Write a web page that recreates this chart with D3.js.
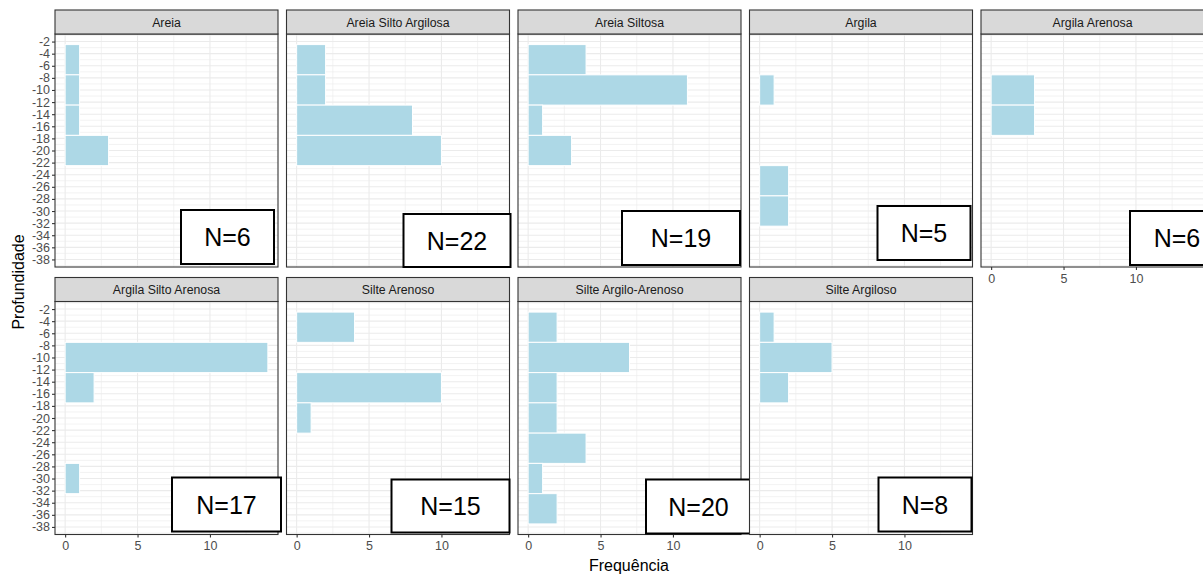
<!DOCTYPE html>
<html>
<head>
<meta charset="utf-8">
<script src="https://cdn.jsdelivr.net/npm/d3@7"></script>
<style>
  html, body { margin: 0; padding: 0; background: #ffffff; overflow: hidden; }
  svg { display: block; font-family: "Liberation Sans", Arial, sans-serif; }
</style>
</head>
<body>
<svg id="chart" width="1203" height="575"></svg>
<script>
// ---------------- data ----------------
const facets = [
  "Areia", "Areia Silto Argilosa", "Areia Siltosa", "Argila", "Argila Arenosa",
  "Argila Silto Arenosa", "Silte Arenoso", "Silte Argilo-Arenoso", "Silte Argiloso"
];
// bin centres (depth, m) — binwidth 5
const binCenters = [-5, -10, -15, -20, -25, -30, -35];
const binWidth = 5;
// counts per facet, one value per bin centre
const countsAreia               = [1, 1, 1, 3, 0, 0, 0];
const countsAreiaSiltoArgilosa  = [2, 2, 8, 10, 0, 0, 0];
const countsAreiaSiltosa        = [4, 11, 1, 3, 0, 0, 0];
const countsArgila              = [0, 1, 0, 0, 2, 2, 0];
const countsArgilaArenosa       = [0, 3, 3, 0, 0, 0, 0];
const countsArgilaSiltoArenosa  = [0, 14, 2, 0, 0, 1, 0];
const countsSilteArenoso        = [4, 0, 10, 1, 0, 0, 0];
const countsSilteArgiloArenoso  = [2, 7, 2, 2, 4, 1, 2];
const countsSilteArgiloso       = [1, 5, 2, 0, 0, 0, 0];
const facetCounts = [
  countsAreia, countsAreiaSiltoArgilosa, countsAreiaSiltosa, countsArgila, countsArgilaArenosa,
  countsArgilaSiltoArenosa, countsSilteArenoso, countsSilteArgiloArenoso, countsSilteArgiloso
];
const nLabels = ["N=6", "N=22", "N=19", "N=5", "N=6", "N=17", "N=15", "N=20", "N=8"];
const yTicks = d3.range(-2, -39, -2);
const yMinor = d3.range(-1, -40, -2);
const xTicks = [0, 5, 10];
const xMinor = [2.5, 7.5, 12.5];
const xTitle = "Frequência";
const yTitle = "Profundidade";

// ---------------- layout (positions/styles) ----------------
const panelW = 223, panelH = 233, stripH = 24;
const colLeft = [55, 286.5, 518, 749.5, 981];
const rowTop = [10, 277.5];  // top of strip
const ncol = 5;
// annotation boxes: width, height, offset of right edge from panel right, offset of bottom from panel bottom
const boxLayout = [
  {w: 93,  h: 54, dr: -4,  db: -3},
  {w: 107, h: 53, dr: 1,   db: 0},
  {w: 118, h: 54, dr: -1,  db: -2},
  {w: 93,  h: 54, dr: -2,  db: -7},
  {w: 94,  h: 54, dr: 20,  db: -2},
  {w: 109, h: 54, dr: 3,   db: -3},
  {w: 118, h: 53, dr: 0,   db: -2},
  {w: 105, h: 54, dr: 10,  db: -1},
  {w: 93,  h: 54, dr: -1,  db: -3}
];

const svg = d3.select("#chart");

const countMax = d3.max(facetCounts.flat());
const xPad = countMax * 0.05;
const x = d3.scaleLinear().domain([-xPad, countMax + xPad]).range([0, panelW]);
const yTop = d3.max(binCenters) + binWidth / 2, yBot = d3.min(binCenters) - binWidth / 2;
const yPad = (yTop - yBot) * 0.05;
const y = d3.scaleLinear().domain([yTop + yPad, yBot - yPad]).range([0, panelH]);

facets.forEach((name, i) => {
  const col = i % ncol, row = Math.floor(i / ncol);
  const px = colLeft[col], sy = rowTop[row], py = sy + stripH;
  const g = svg.append("g").attr("transform", `translate(${px},${py})`);

  // panel background
  g.append("rect").attr("width", panelW).attr("height", panelH).attr("fill", "#ffffff");
  // minor grid
  g.selectAll(".ymin").data(yMinor).join("line")
    .attr("x1", 0).attr("x2", panelW)
    .attr("y1", d => y(d)).attr("y2", d => y(d))
    .attr("stroke", "#ebebeb").attr("stroke-width", 0.6);
  g.selectAll(".xmin").data(xMinor).join("line")
    .attr("y1", 0).attr("y2", panelH)
    .attr("x1", d => x(d)).attr("x2", d => x(d))
    .attr("stroke", "#ebebeb").attr("stroke-width", 0.6);
  // major grid
  g.selectAll(".ymaj").data(yTicks).join("line")
    .attr("x1", 0).attr("x2", panelW)
    .attr("y1", d => y(d)).attr("y2", d => y(d))
    .attr("stroke", "#ebebeb").attr("stroke-width", 1.1);
  g.selectAll(".xmaj").data(xTicks).join("line")
    .attr("y1", 0).attr("y2", panelH)
    .attr("x1", d => x(d)).attr("x2", d => x(d))
    .attr("stroke", "#ebebeb").attr("stroke-width", 1.1);

  // bars
  const bins = binCenters.map((c, k) => ({c, n: facetCounts[i][k]})).filter(d => d.n > 0);
  g.selectAll(".bar").data(bins).join("rect")
    .attr("x", x(0))
    .attr("y", d => y(d.c + binWidth / 2))
    .attr("width", d => x(d.n) - x(0))
    .attr("height", d => y(d.c - binWidth / 2) - y(d.c + binWidth / 2))
    .attr("fill", "#add8e6")
    .attr("stroke", "#ffffff").attr("stroke-width", 1);

  // panel border
  g.append("rect").attr("width", panelW).attr("height", panelH)
    .attr("fill", "none").attr("stroke", "#333333").attr("stroke-width", 1.1);

  // strip
  const s = svg.append("g").attr("transform", `translate(${px},${sy})`);
  s.append("rect").attr("width", panelW).attr("height", stripH)
    .attr("fill", "#d9d9d9").attr("stroke", "#333333").attr("stroke-width", 1.1);
  s.append("text").attr("x", panelW / 2).attr("y", stripH / 2 + 4.5)
    .attr("text-anchor", "middle").attr("font-size", 12.3).attr("fill", "#1a1a1a").text(name);

  // y axis on first column
  if (col === 0) {
    const ya = svg.append("g").attr("transform", `translate(${px},${py})`)
      .call(d3.axisLeft(y).tickValues(yTicks).tickSize(3).tickPadding(2).tickFormat(d3.format("d")));
    ya.select(".domain").remove();
    ya.selectAll("line").attr("stroke", "#333333").attr("stroke-width", 1.1);
    ya.selectAll("text").attr("fill", "#4d4d4d").attr("font-size", 12.5)
      .attr("font-family", "Liberation Sans, Arial, sans-serif").text(d => d3.format("d")(d).replace("−", "-"));
  }
  // x axis if no panel below
  const hasBelow = (i + ncol) < facets.length;
  if (!hasBelow) {
    const xa = svg.append("g").attr("transform", `translate(${px},${py + panelH})`)
      .call(d3.axisBottom(x).tickValues(xTicks).tickSize(3).tickPadding(4));
    xa.select(".domain").remove();
    xa.selectAll("line").attr("stroke", "#333333").attr("stroke-width", 1.1);
    xa.selectAll("text").attr("fill", "#4d4d4d").attr("font-size", 12.5)
      .attr("font-family", "Liberation Sans, Arial, sans-serif");
  }

  // N annotation box
  const b = boxLayout[i];
  const bx = px + panelW + b.dr - b.w, by = py + panelH + b.db - b.h;
  const bg = svg.append("g").attr("transform", `translate(${bx},${by})`);
  bg.append("rect").attr("width", b.w).attr("height", b.h)
    .attr("fill", "#ffffff").attr("stroke", "#000000").attr("stroke-width", 2);
  bg.append("text").attr("x", b.w / 2).attr("y", b.h / 2 + 9)
    .attr("text-anchor", "middle").attr("font-size", 25).attr("fill", "#000000")
    .attr("font-family", "Liberation Sans, Arial, sans-serif").text(nLabels[i]);
});

// axis titles
svg.append("text").attr("x", 629).attr("y", 571)
  .attr("text-anchor", "middle").attr("font-size", 16).attr("fill", "#000000").text(xTitle);
svg.append("text").attr("transform", "translate(24,282) rotate(-90)")
  .attr("text-anchor", "middle").attr("font-size", 16).attr("fill", "#000000").text(yTitle);
</script>
</body>
</html>
